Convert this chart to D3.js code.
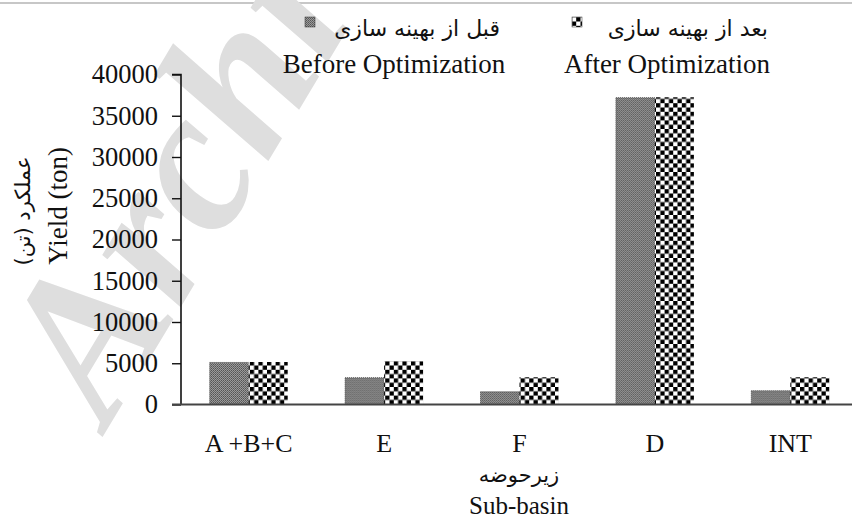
<!DOCTYPE html>
<html><head><meta charset="utf-8">
<script src="https://cdn.jsdelivr.net/npm/d3@7"></script>
<style>body{margin:0;background:#fff}svg{display:block}
.sf{font-family:"Liberation Serif","DejaVu Serif",serif}
.fa{font-family:"DejaVu Sans",sans-serif}
</style>
</head><body>
<svg id="c" width="852" height="519"></svg>
<script>
const categories = ["A +B+C", "E", "F", "D", "INT"];
const seriesNames = ["before", "after"];
const beforeValues = [5100, 3250, 1550, 37190, 1670];
const afterValues = [5150, 5240, 3300, 37240, 3300];
const yTicks = [0, 5000, 10000, 15000, 20000, 25000, 30000, 35000, 40000];
const legendFa = ["قبل از بهینه سازی", "بعد از بهینه سازی"];
const legendEn = ["Before Optimization", "After Optimization"];
const yTitleFa = "عملکرد (تن)";
const yTitleEn = "Yield (ton)";
const xTitleFa = "زیرحوضه";
const xTitleEn = "Sub-basin";

const svg = d3.select("#c");

const defs = svg.append("defs");
const p1 = defs.append("pattern").attr("id","dither").attr("patternUnits","userSpaceOnUse").attr("width",2).attr("height",2);
p1.append("rect").attr("width",2).attr("height",2).attr("fill","#9a9a9a");
p1.append("rect").attr("width",1).attr("height",1).attr("fill","#555");
p1.append("rect").attr("x",1).attr("y",1).attr("width",1).attr("height",1).attr("fill","#666");
const p2 = defs.append("pattern").attr("id","checker").attr("patternUnits","userSpaceOnUse").attr("width",8.6).attr("height",8.6);
p2.append("rect").attr("width",8.6).attr("height",8.6).attr("fill","#fff");
p2.append("rect").attr("width",4.3).attr("height",4.3).attr("fill","#000");
p2.append("rect").attr("x",4.3).attr("y",4.3).attr("width",4.3).attr("height",4.3).attr("fill","#000");

// top border line
svg.append("line").attr("x1",0).attr("x2",852).attr("y1",3).attr("y2",3).attr("stroke","#b5b5b5").attr("stroke-width",1.5);

// watermark
svg.append("text").attr("class","sf").attr("transform","translate(108,428) rotate(-59)")
  .style("font-weight","bold").style("font-style","italic")
  .style("font-size","205px").attr("fill","#dedede").text("Archive");

const x = d3.scaleBand().domain(categories).range([181, 858]).padding(0);
const xs = d3.scaleBand().domain(seriesNames).range([0, x.bandwidth()]).paddingInner(0).paddingOuter(0.736);
const y = d3.scaleLinear().domain([0, 40000]).range([404.5, 74.5]);

const data = categories.map((c,i)=>({cat:c, before:beforeValues[i], after:afterValues[i]}));

const g = svg.append("g");
g.selectAll("g.grp").data(data).join("g").attr("class","grp")
 .attr("transform",d=>`translate(${x(d.cat)},0)`)
 .selectAll("rect").data(d=>seriesNames.map(s=>({s, v:d[s]}))).join("rect")
 .attr("x",d=>xs(d.s)).attr("width",xs.bandwidth())
 .attr("y",d=>y(d.v)).attr("height",d=>y(0)-y(d.v))
 .attr("fill",d=>d.s==="before"?"url(#dither)":"url(#checker)")
 .attr("stroke",d=>d.s==="before"?"#333":"none").attr("stroke-width",0.8).attr("stroke-dasharray","1,1");

// y axis
const ya = svg.append("g").attr("transform","translate(181,0)")
  .call(d3.axisLeft(y).tickValues(yTicks).tickSize(9).tickPadding(14).tickFormat(d3.format("d")));
ya.attr("font-family",null).attr("font-size",null);
ya.select(".domain").attr("stroke","#111").attr("stroke-width",1.6).attr("d","M-9,74.5H0V404.5");
ya.selectAll(".tick line").attr("stroke","#111").attr("stroke-width",1.4);
ya.selectAll(".tick text").attr("class","sf").style("font-size","26.5px").attr("fill","#111");

// baseline
svg.append("line").attr("x1",172).attr("x2",852).attr("y1",404.5).attr("y2",404.5).attr("stroke","#444").attr("stroke-width",2);

// x labels
svg.append("g").selectAll("text").data(categories).join("text").attr("class","sf")
  .attr("x",d=>x(d)+x.bandwidth()/2).attr("y",452).attr("text-anchor","middle")
  .style("font-size","26px").attr("fill","#111").text(d=>d);
svg.append("text").attr("class","fa").attr("x",519).attr("y",482).attr("text-anchor","middle").style("font-size","21px").attr("fill","#111").text(xTitleFa);
svg.append("text").attr("class","sf").attr("x",519).attr("y",514).attr("text-anchor","middle").style("font-size","25px").attr("fill","#111").text(xTitleEn);

// y titles
svg.append("text").attr("class","fa").attr("transform","translate(30,211) rotate(-90)").attr("text-anchor","middle").style("font-size","21px").attr("fill","#111").text(yTitleFa);
svg.append("text").attr("class","sf").attr("transform","translate(67,206) rotate(-90)").attr("text-anchor","middle").style("font-size","27px").attr("fill","#111").text(yTitleEn);

// legend
const lg = [{fill:"url(#dither)", sx:305, fa:legendFa[0], faEnd:500, en:legendEn[0], enX:394},
            {fill:"url(#checker)", sx:572, fa:legendFa[1], faEnd:768, en:legendEn[1], enX:667}];
lg.forEach(l=>{
  svg.append("rect").attr("x",l.sx).attr("y",17).attr("width",10).attr("height",10).attr("fill",l.fill).attr("stroke","#333").attr("stroke-width",0.5);
  svg.append("text").attr("class","fa").attr("x",l.faEnd).attr("y",36).attr("text-anchor","end").style("font-size","22px").attr("fill","#111").text(l.fa);
  svg.append("text").attr("class","sf").attr("x",l.enX).attr("y",73).attr("text-anchor","middle").style("font-size","27px").attr("fill","#111").text(l.en);
});
</script>
</body></html>
